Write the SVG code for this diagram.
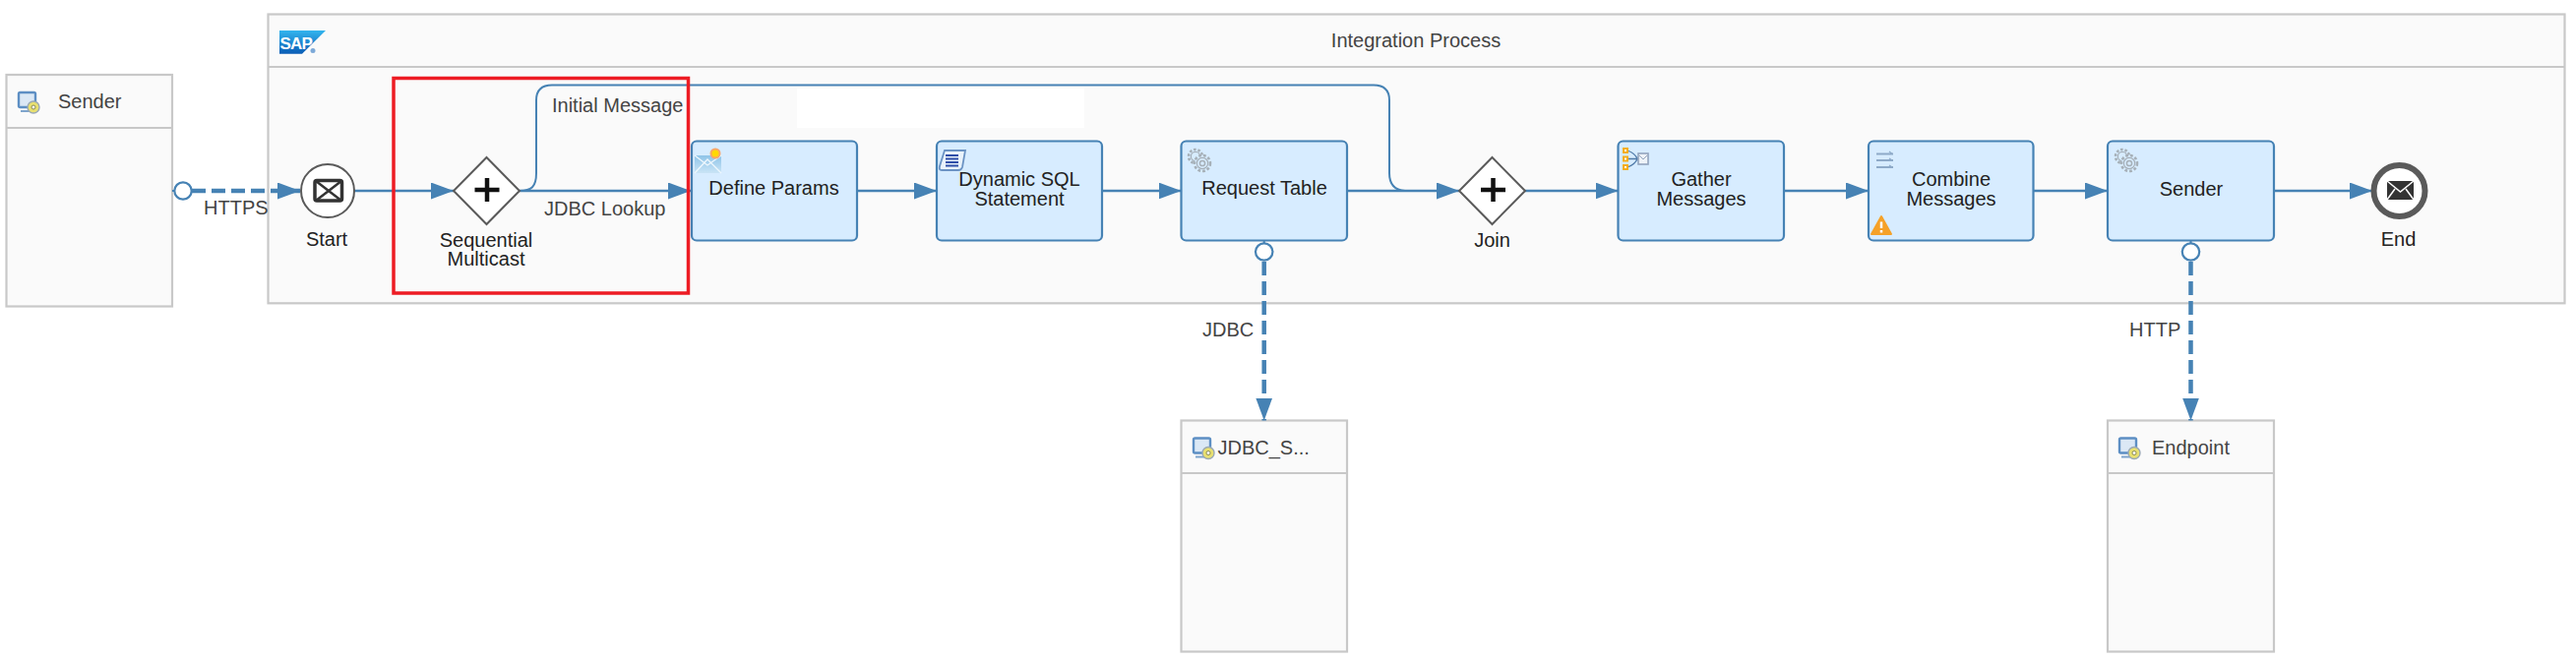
<svg xmlns="http://www.w3.org/2000/svg" xmlns:xlink="http://www.w3.org/1999/xlink" width="2618" height="672" viewBox="0 0 2618 672">
<style>
text{font-family:"Liberation Sans",Arial,sans-serif;font-size:20px;fill:#222}
.lbl{fill:#444}
.mid{text-anchor:middle}
.pool{fill:#fafafa;stroke:#c8c8c8;stroke-width:2.2}
.div{stroke:#c8c8c8;stroke-width:2.2;fill:none}
.task{fill:#d7ecff;stroke:#4682b4;stroke-width:2.2}
.gw{fill:#fff;stroke:#5a5a5a;stroke-width:2}
.plus{stroke:#111;stroke-width:4.5;fill:none}
.flow{stroke:#4682b4;stroke-width:2.5;fill:none;marker-end:url(#arrow)}
.thin{stroke:#4682b4;stroke-width:2;fill:none}
.msg{stroke:#4682b4;stroke-width:4.5;fill:none;stroke-dasharray:14 6;marker-end:url(#arrow)}
.port{fill:#fff;stroke:#4682b4;stroke-width:2.2}
</style>
<defs>
<marker id="arrow" markerUnits="userSpaceOnUse" markerWidth="24" markerHeight="18" refX="23" refY="8.5" orient="auto"><path d="M0,0L23,8.5L0,17Z" fill="#4682b4"/></marker>
<linearGradient id="sapg" x1="0" y1="0" x2="0" y2="1"><stop offset="0" stop-color="#33b5ee"/><stop offset="1" stop-color="#0a5cb5"/></linearGradient>
<linearGradient id="mail" x1="0" y1="0" x2="0" y2="1"><stop offset="0" stop-color="#8fc4e8"/><stop offset="1" stop-color="#c9e4f6"/></linearGradient>
<g id="sys">
<rect x="1" y="1" width="17" height="15" rx="1.5" fill="#dbe8f5" stroke="#5d8fc4" stroke-width="2.4"/>
<path d="M3,20H13" stroke="#7ea4cc" stroke-width="2"/>
<circle cx="16" cy="16" r="6" fill="#e8e070" stroke="#9aa8b4" stroke-width="1.4"/>
<circle cx="16" cy="16" r="2" fill="#fff" stroke="#8a8a50"/>
</g>
<g id="gears" fill="none" stroke="#a6b0b8">
<circle cx="10" cy="10" r="7" stroke-width="2.6" stroke-dasharray="2.6 1.8"/>
<circle cx="10" cy="10" r="4.6" stroke-width="1.2"/>
<circle cx="17" cy="17" r="8" fill="#d7ecff" stroke-width="2.6" stroke-dasharray="2.8 2"/>
<circle cx="17" cy="17" r="5.6" stroke-width="1.2"/>
<circle cx="17" cy="17" r="2.6" stroke-width="1.5"/>
</g>
</defs>

<g id="pool-sender">
<rect class="pool" x="6.5" y="76" width="168.5" height="235.500"/>
<path class="div" d="M6.5,130H175"/>
<use href="#sys" x="18" y="93"/>
<text class="lbl" x="59" y="110">Sender</text>
</g>

<g id="pool-integration">
<rect class="pool" x="272.5" y="14.5" width="2334" height="293.800"/>
<path class="div" d="M272.5,68H2606.5"/>
<polygon points="284,31 331,31 307,54.7 284,54.7" fill="url(#sapg)"/>
<text x="284.500" y="49.500" style="font-size:17px;font-weight:bold;fill:#fff;letter-spacing:-0.8px">SAP</text>
<circle cx="318" cy="51.500" r="2.500" fill="#7da9d8"/>
<text class="lbl mid" x="1439" y="47.500">Integration Process</text>
<rect x="810" y="90" width="292" height="40" fill="#fff"/>
</g>

<g id="pool-jdbc">
<rect class="pool" x="1200.500" y="427.500" width="168.500" height="235"/>
<path class="div" d="M1200.500,481H1369"/>
<use href="#sys" x="1212" y="444.500"/>
<text class="lbl" x="1237.500" y="461.500">JDBC_S...</text>
</g>

<g id="pool-endpoint">
<rect class="pool" x="2142" y="427.500" width="169" height="235"/>
<path class="div" d="M2142,481H2311"/>
<use href="#sys" x="2153" y="444.500"/>
<text class="lbl" x="2187" y="461.500">Endpoint</text>
</g>

<g id="connectors">
<path class="msg" d="M195,194H305"/>
<path class="thin" d="M175,194H186"/>
<path class="flow" d="M360,194H461"/>
<path class="flow" d="M528,194H702"/>
<path class="thin" d="M528,194C540,194 545,190 545,176V102Q545,86.500 561,86.500H1396Q1412,86.500 1412,102V176Q1412,193 1428,194"/>
<path class="flow" d="M871,194H952"/>
<path class="flow" d="M1120,194H1200.500"/>
<path class="flow" d="M1369,194H1483"/>
<path class="flow" d="M1550,194H1644.500"/>
<path class="flow" d="M1813,194H1899"/>
<path class="flow" d="M2066.500,194H2142"/>
<path class="flow" d="M2311,194H2411"/>
<path class="msg" d="M1284.700,266V427.500"/>
<path class="thin" d="M1284.700,245V248"/>
<path class="msg" d="M2226.500,266V427.500"/>
<path class="thin" d="M2226.500,245V248"/>
<circle class="port" cx="186" cy="194" r="8.700"/>
<circle class="port" cx="1284.700" cy="256" r="8.700"/>
<circle class="port" cx="2226.500" cy="256" r="8.700"/>
<text class="lbl" x="207" y="218">HTTPS</text>
<text class="lbl" x="561" y="113.500">Initial Message</text>
<text class="lbl" x="553" y="218.500">JDBC Lookup</text>
<text class="lbl" x="1222" y="342">JDBC</text>
<text class="lbl" x="2164" y="342">HTTP</text>
</g>

<g id="start">
<circle cx="333" cy="194" r="27" fill="#fff" stroke="#5a5a5a" stroke-width="2"/>
<rect x="320" y="183.500" width="27.500" height="20.500" rx="2" fill="#fff" stroke="#333" stroke-width="3.500"/>
<path d="M321,184L347,204M347,184L321,204" stroke="#333" stroke-width="2.500"/>
<text class="mid" x="332" y="250">Start</text>
</g>

<g id="multicast">
<polygon class="gw" points="494.500,160 528,194 494.500,228 461,194"/>
<path class="plus" d="M482.500,193H507.500M495,181V205"/>
<text class="mid" x="494" y="250.500">Sequential</text>
<text class="mid" x="494" y="270">Multicast</text>
</g>

<g id="define-params">
<rect class="task" x="703" y="143.500" width="168" height="101" rx="5"/>
<polygon points="706,158 733,158 733,176 706,176" fill="url(#mail)"/>
<path d="M706,176L719,162L733,176M706,158L719,168L733,158" stroke="#eef7fd" stroke-width="1.300" fill="none"/>
<circle cx="727" cy="156" r="4.500" fill="#ffd800" stroke="#f7a66a" stroke-width="2"/>
<text class="mid" x="786.500" y="198">Define Params</text>
</g>

<g id="dynamic-sql">
<rect class="task" x="952" y="143.500" width="168" height="101" rx="5"/>
<path d="M960,153H981L978,170Q977,173 974,173H957Q954,173 955,169Z" fill="#eaf3fb" stroke="#6b93c4" stroke-width="1.800"/>
<path d="M961,158H974M961,161.500H974M961,165H974M961,168.500H974" stroke="#2f4fa8" stroke-width="2"/>
<text class="mid" x="1036" y="189">Dynamic SQL</text>
<text class="mid" x="1036" y="208.500">Statement</text>
</g>

<g id="request-table">
<rect class="task" x="1200.500" y="143.500" width="168.500" height="101" rx="5"/>
<use href="#gears" x="1205" y="149"/>
<text class="mid" x="1285" y="198">Request Table</text>
</g>

<g id="join">
<polygon class="gw" points="1516.500,160 1550,194 1516.500,228 1483,194"/>
<path class="plus" d="M1505,193H1530M1517.500,181V205"/>
<text class="mid" x="1516.500" y="250.500">Join</text>
</g>

<g id="gather">
<rect class="task" x="1644.500" y="143.500" width="168.500" height="101" rx="5"/>
<path d="M1654,153Q1662,156 1664,161.500M1654,161.500H1665M1654,170Q1662,167 1664,161.500" stroke="#4f7aa8" stroke-width="1.300" fill="none"/>
<rect x="1665" y="156" width="10" height="11" fill="#eef3f8" stroke="#93a4bd" stroke-width="1.600"/>
<path d="M1666,158L1670,162L1674,158" stroke="#93a4bd" fill="none"/>
<g fill="#fff" stroke="#f4ae1a" stroke-width="2"><rect x="1650" y="151" width="4" height="4"/><rect x="1650" y="159.500" width="4" height="4"/><rect x="1650" y="168" width="4" height="4"/></g>
<text class="mid" x="1729" y="189">Gather</text>
<text class="mid" x="1729" y="208.500">Messages</text>
</g>

<g id="combine">
<rect class="task" x="1899" y="143.500" width="167.500" height="101" rx="5"/>
<path d="M1907,156.500H1924M1907,163H1924M1907,170H1924" stroke="#8eaac8" stroke-width="2"/>
<path d="M1920,154L1923,156.500M1920,161L1923,163M1920,168L1923,170" stroke="#8eaac8" stroke-width="1.200"/>
<path d="M1912,220L1922,238H1902Z" fill="#f5a128" stroke="#f5a128" stroke-width="2" stroke-linejoin="round"/>
<path d="M1912,225.500V232M1912,234V236.500" stroke="#fff" stroke-width="2.500"/>
<text class="mid" x="1983" y="189">Combine</text>
<text class="mid" x="1983" y="208.500">Messages</text>
</g>

<g id="sender-task">
<rect class="task" x="2142" y="143.500" width="169" height="101" rx="5"/>
<use href="#gears" x="2147" y="149"/>
<text class="mid" x="2227" y="198.500">Sender</text>
</g>

<g id="end">
<circle cx="2438.500" cy="194" r="26" fill="#fff" stroke="#5a5a5a" stroke-width="6"/>
<rect x="2426" y="184" width="27" height="19" fill="#333"/>
<path d="M2426,184L2439.500,195L2453,184M2426,203L2434,192M2453,203L2445,192" stroke="#fff" stroke-width="1.500" fill="none"/>
<text class="mid" x="2437.500" y="250">End</text>
</g>

<rect id="highlight" x="400" y="79.500" width="299.500" height="218.500" fill="none" stroke="#ed1c24" stroke-width="3.500"/>
</svg>
